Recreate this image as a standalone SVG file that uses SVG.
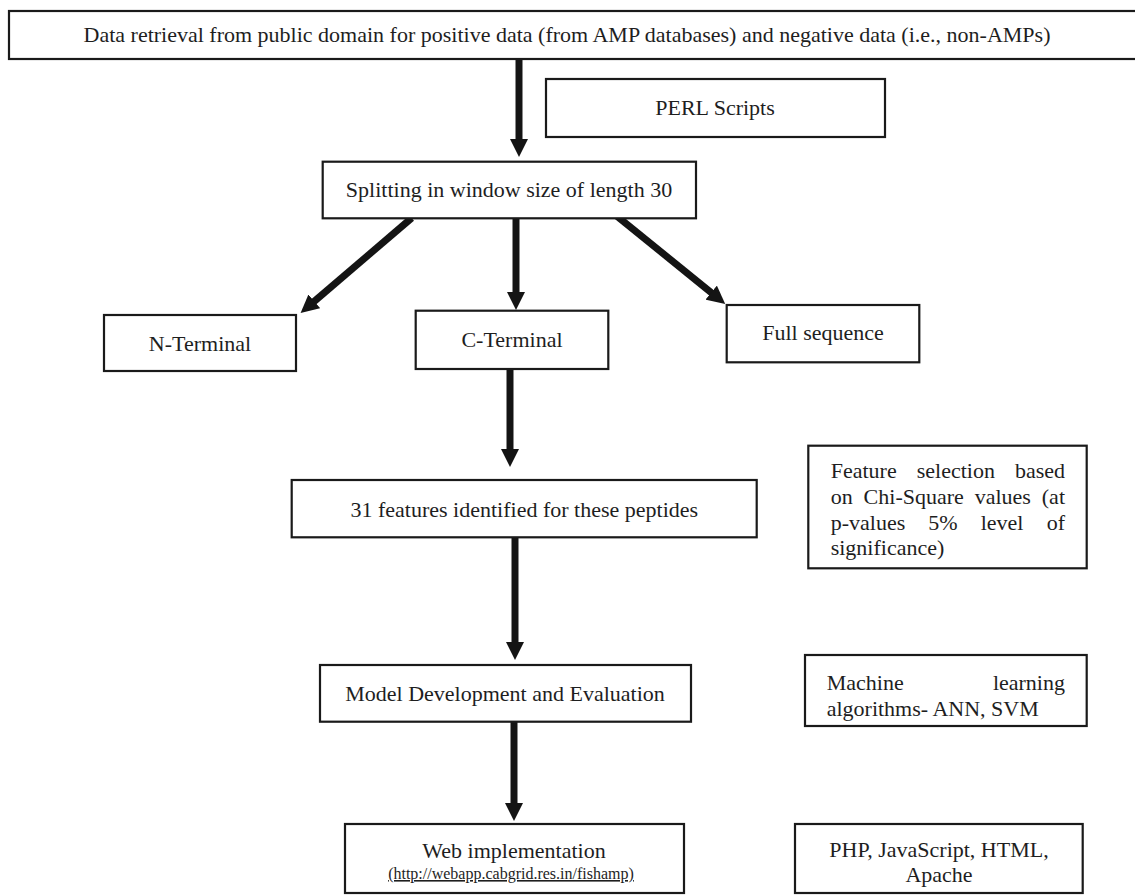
<svg xmlns="http://www.w3.org/2000/svg" width="1135" height="895" viewBox="0 0 1135 895">
  <style>
    .box { fill: #ffffff; stroke: #1a1a1a; stroke-width: 2.2; }
    .t { font-family: "Liberation Serif", "Times New Roman", serif; font-size: 22px; fill: #1e1e1e; }
    .c { text-anchor: middle; }
    .e { text-anchor: end; }
    .url { font-family: "Liberation Serif", "Times New Roman", serif; font-size: 16px; fill: #1e1e1e; text-anchor: middle; text-decoration: underline; }
    .arrow { stroke: #141414; stroke-width: 7; fill: none; marker-end: url(#head); }
  </style>
  <defs>
    <marker id="head" viewBox="0 0 18 18" markerWidth="18" markerHeight="18" markerUnits="userSpaceOnUse" refX="1" refY="9" orient="auto">
      <path d="M0,0 L18,9 L0,18 z" fill="#141414"/>
    </marker>
  </defs>
  <rect width="1135" height="895" fill="#ffffff"/>

  <g id="connectors">
    <line class="arrow" x1="519" y1="60" x2="519" y2="140"/>
    <line class="arrow" x1="411.7" y1="218" x2="313.5" y2="302"/>
    <line class="arrow" x1="516" y1="218" x2="516" y2="293"/>
    <line class="arrow" x1="616.7" y1="216" x2="712" y2="293.2"/>
    <line class="arrow" x1="510" y1="370" x2="510" y2="450"/>
    <line class="arrow" x1="515" y1="538" x2="515" y2="643"/>
    <line class="arrow" x1="514" y1="722" x2="514" y2="804"/>
  </g>

  <g id="node-data">
    <rect class="box" x="9" y="11" width="1140" height="48"/>
    <text class="t c" x="567" y="42">Data retrieval from public domain for positive data (from AMP databases) and negative data (i.e., non-AMPs)</text>
  </g>

  <g id="node-perl">
    <rect class="box" x="546" y="79" width="339" height="58"/>
    <text class="t c" x="715" y="115">PERL Scripts</text>
  </g>

  <g id="node-splitting">
    <rect class="box" x="322.7" y="161.7" width="373.3" height="56.6"/>
    <text class="t c" x="509" y="196.7">Splitting in window size of length 30</text>
  </g>

  <g id="node-nterminal">
    <rect class="box" x="104" y="315" width="192" height="56"/>
    <text class="t c" x="200" y="351">N-Terminal</text>
  </g>

  <g id="node-cterminal">
    <rect class="box" x="415.7" y="310.7" width="192.6" height="58.3"/>
    <text class="t c" x="512" y="347">C-Terminal</text>
  </g>

  <g id="node-fullsequence">
    <rect class="box" x="726.7" y="305" width="192.6" height="57.3"/>
    <text class="t c" x="823" y="340">Full sequence</text>
  </g>

  <g id="node-features">
    <rect class="box" x="291.7" y="480" width="465" height="57.3"/>
    <text class="t c" x="524.3" y="516.7">31 features identified for these peptides</text>
  </g>

  <g id="node-featureselection">
    <rect class="box" x="808.3" y="445.7" width="278.4" height="122.6"/>
    <text class="t" x="830.7" y="478.3">Feature</text>
    <text class="t" x="916.7" y="478.3">selection</text>
    <text class="t e" x="1065" y="478.3">based</text>
    <text class="t" x="830.7" y="504">on</text>
    <text class="t" x="863.6" y="504">Chi-Square</text>
    <text class="t" x="974.7" y="504">values</text>
    <text class="t e" x="1065" y="504">(at</text>
    <text class="t" x="830.7" y="529.5">p-values</text>
    <text class="t" x="928.3" y="529.5">5%</text>
    <text class="t" x="980.7" y="529.5">level</text>
    <text class="t e" x="1065" y="529.5">of</text>
    <text class="t" x="830.7" y="555">significance)</text>
  </g>

  <g id="node-model">
    <rect class="box" x="320" y="665" width="371" height="56.7"/>
    <text class="t c" x="505" y="700.7">Model Development and Evaluation</text>
  </g>

  <g id="node-ml">
    <rect class="box" x="805" y="655" width="281.7" height="71"/>
    <text class="t" x="826.7" y="690">Machine</text>
    <text class="t e" x="1065" y="690">learning</text>
    <text class="t" x="826.7" y="715.5">algorithms- ANN, SVM</text>
  </g>

  <g id="node-web">
    <rect class="box" x="345" y="824" width="339" height="69"/>
    <text class="t c" x="514" y="858.3">Web implementation</text>
    <text class="url" x="511" y="879">(http://webapp.cabgrid.res.in/fishamp)</text>
  </g>

  <g id="node-php">
    <rect class="box" x="795" y="824" width="287.7" height="69"/>
    <text class="t c" x="939" y="856.7">PHP, JavaScript, HTML,</text>
    <text class="t c" x="939" y="881.7">Apache</text>
  </g>
</svg>
